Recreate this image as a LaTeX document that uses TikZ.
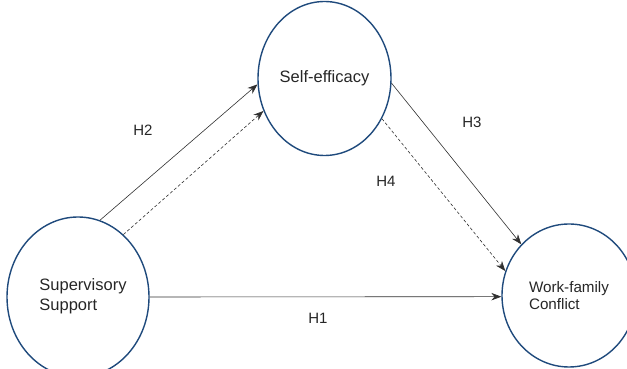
\documentclass[tikz,border=0pt]{standalone}
\usepackage{fontspec}
\setmainfont{Liberation Sans}
\usetikzlibrary{arrows.meta,shapes.geometric}
\definecolor{ellblue}{HTML}{1F4A7C}
\definecolor{txt}{HTML}{262626}
\definecolor{lin}{HTML}{303030}
\begin{document}
\begin{tikzpicture}[x=1pt,y=1pt,
  construct/.style={draw=ellblue,line width=1.4pt,ellipse,inner sep=0pt,text=txt,align=left},
  path/.style={draw=lin,line width=0.6pt,-{Stealth[length=10pt,width=7.5pt]}},
  medpath/.style={path,dashed,dash pattern=on 3pt off 2.2pt},
  hlabel/.style={text=txt,font=\fontsize{15}{18}\selectfont,inner sep=0pt}]
\useasboundingbox (0,0) rectangle (627,369);
\node[construct,minimum width=142pt,minimum height=160pt,
      font=\fontsize{16.5}{20}\selectfont] (ss) at (78,72) {\hspace*{10pt}\begin{tabular}{@{}l@{}}Supervisory\\Support\end{tabular}};
\node[construct,minimum width=133pt,minimum height=154pt,
      font=\fontsize{16.5}{20}\selectfont] (se) at (324.5,290.5) {Self-efficacy};
\node[construct,minimum width=134pt,minimum height=143pt,
      font=\fontsize{15.2}{17.5}\selectfont] (wf) at (569,73.5) {Work-family\\Conflict};
% connectors
\draw[path] (ss.0) -- (wf.181);
\draw[path] (ss.74) -- (se.185);
\draw[medpath] (ss.54) -- (se.208);
\draw[path] (se.-4) -- (wf.133);
\draw[medpath] (se.-35) -- (wf.159);
% labels
\node[hlabel] (h1) at (318,51) {H1};
\node[hlabel] (h2) at (143,239) {H2};
\node[hlabel] (h3) at (472,247) {H3};
\node[hlabel] (h4) at (386,188) {H4};
\end{tikzpicture}
\end{document}
